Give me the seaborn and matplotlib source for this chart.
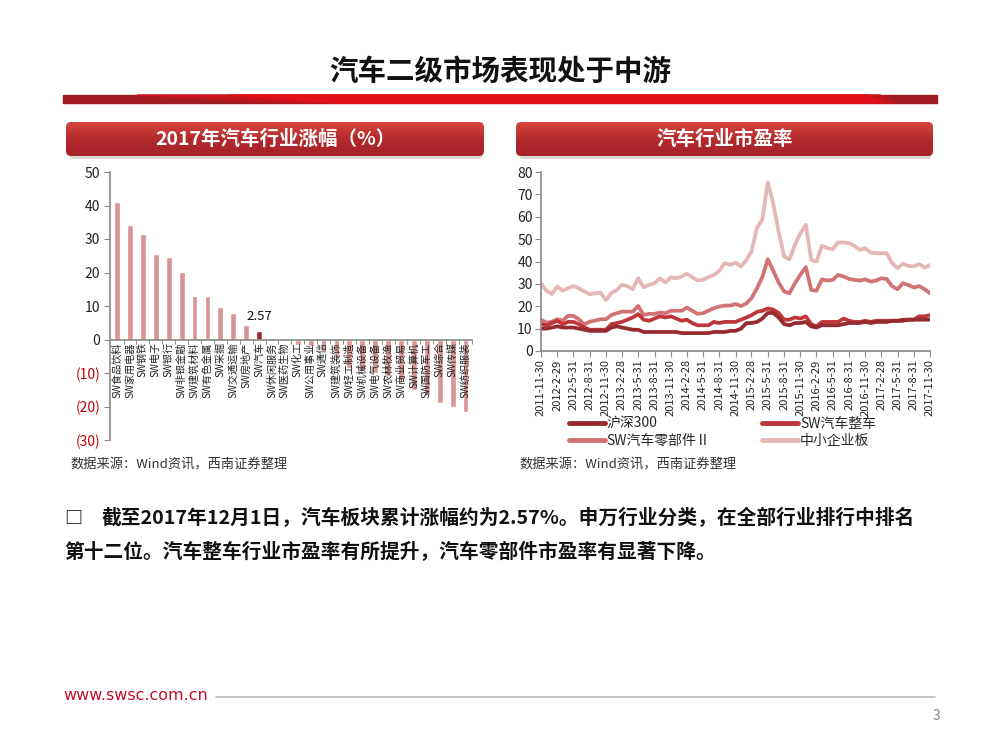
import numpy as np
import pandas as pd
import matplotlib
matplotlib.use('Agg')
import matplotlib.pyplot as plt
import seaborn as sns
from matplotlib.patches import FancyBboxPatch, Polygon, Rectangle
from matplotlib.colors import LinearSegmentedColormap
from matplotlib.lines import Line2D

# ---- data: 2017 industry returns (%)
bar_cats = ['SW食品饮料', 'SW家用电器', 'SW钢铁', 'SW电子', 'SW银行', 'SW非银金融', 'SW建筑材料',
            'SW有色金属', 'SW采掘', 'SW交通运输', 'SW房地产', 'SW汽车', 'SW休闲服务', 'SW医药生物',
            'SW化工', 'SW公用事业', 'SW通信', 'SW建筑装饰', 'SW轻工制造', 'SW机械设备', 'SW电气设备',
            'SW农林牧渔', 'SW商业贸易', 'SW计算机', 'SW国防军工', 'SW综合', 'SW传媒', 'SW纺织服装']
bar_vals = [41.0, 34.3, 31.5, 25.5, 24.5, 20.2, 13.0, 13.0, 9.7, 7.8, 4.2, 2.57, 0.3, 0.2,
            -1.5, -1.8, -3.5, -5.5, -8.5, -9.5, -10.0, -11.0, -12.0, -15.0, -16.5, -19.0, -20.0, -21.5]
highlight = 'SW汽车'
bar_yticks = [-30, -20, -10, 0, 10, 20, 30, 40, 50]
bar_ylabels = ['(30)', '(20)', '(10)', '0', '10', '20', '30', '40', '50']

# ---- data: PE ratio, month ends 2011-11-30 .. 2017-11-30
pe_dates = pd.date_range('2011-11-30', '2017-11-30', freq='ME')
hs300 = [10, 10, 10.5, 11, 10.5, 10.5, 10.5, 10, 9.5, 9, 9, 9, 9,
         10.5, 11, 10.5, 10, 9.5, 9.5, 8.5, 8.5, 8.5, 8.5, 8.5, 8.5, 8.5,
         8, 8, 8, 8, 8, 8, 8.5, 8.5, 8.5, 9, 9, 10,
         12.5, 12.5, 13, 14.5, 17, 17, 15, 12, 11.5, 12.5, 12.5, 13,
         11, 10.5, 11.5, 11.5, 11.5, 11.5, 12, 12.5, 12.5, 12.5, 13, 12.5,
         13, 13, 13, 13.5, 13.5, 13.5, 14, 14, 14, 14, 14]
zhengche = [12, 11.5, 12.5, 13.5, 12, 13, 13, 12, 10.5, 9.5, 9.5, 9.5, 9.5,
            12, 12.5, 13, 14, 15, 16.5, 14, 13.5, 14.5, 15.5, 15, 15.5, 14.5,
            13.5, 14, 12.5, 11.5, 11.5, 11.5, 13, 12.5, 13, 13, 13, 14,
            15, 16, 17.5, 18, 19, 18.5, 17, 14, 14, 15, 14.5, 15.5,
            12, 11, 13, 13, 13, 13, 14.5, 13.5, 13, 13, 13.5, 13,
            13.5, 13.5, 13.5, 13.5, 13.5, 14, 14, 14, 15.5, 15.5, 16]
lingbujian = [13.9, 12.7, 13.1, 14.2, 13.6, 15.7, 15.7, 14.2, 11.9, 13.1, 13.6, 14.2, 14.2,
              16.1, 16.9, 17.6, 17.6, 17.6, 20.1, 16.1, 16.6, 16.6, 17.2, 16.9, 18, 18,
              18, 19.4, 18, 16.6, 16.9, 18, 19.1, 19.9, 20.3, 20.3, 21, 20.1,
              21.3, 23.6, 28, 33, 41, 36, 30.6, 26.6, 25.8, 30.3, 34, 37.5,
              27.3, 26.9, 32, 31.5, 31.8, 34, 33.3, 32.2, 31.8, 31.5, 32, 31,
              31.5, 32.5, 32.2, 29, 27.6, 30.3, 29.5, 28.4, 29, 27.6, 25.8]
zxb = [30.3, 26.9, 25.5, 28.8, 27, 28, 29, 28, 26.6, 25.4, 25.8, 26.1, 22.8,
       26, 27.3, 29.6, 29, 27.6, 32.5, 28.5, 29.6, 30.3, 32.5, 30.6, 33, 32.5,
       33.3, 34.5, 33, 31.5, 31.8, 33, 34, 35.8, 39.3, 38.5, 39.5, 37.8,
       40.7, 44.5, 55, 58.7, 75.4, 66, 53.4, 42.2, 41, 47.5, 52.4, 56.4,
       40.7, 40, 47, 46, 45.5, 48.5, 48.5, 48.2, 47, 45.2, 46, 44,
       43.7, 43.7, 43.7, 39.3, 37, 39, 38, 37.8, 38.8, 37.3, 38.4]
series_names = ['沪深300', 'SW汽车整车', 'SW汽车零部件Ⅱ', '中小企业板']
series_colors = ['#962B2F', '#BE363A', '#D27274', '#E5B6B6']

sns.set_theme(style='white')
plt.rcParams['font.family'] = ['Noto Sans CJK SC', 'DejaVu Sans']
plt.rcParams['axes.unicode_minus'] = False

fig = plt.figure(figsize=(10, 7.5), dpi=100)
W, H = 1000.0, 750.0


def fx(x):
    return x / W


def fy(y):
    return 1 - y / H


# title + red band
fig.text(0.5, fy(72), '汽车二级市场表现处于中游', ha='center', va='center',
         fontsize=20.5, fontweight='bold', color='#111111')
fig.patches.append(Rectangle((fx(63), fy(103)), fx(937) - fx(63), fy(95) - fy(103),
                             transform=fig.transFigure, color='#A21B20', zorder=1))
fig.patches.append(Polygon([(fx(137), fy(95)), (fx(880), fy(95)), (fx(895), fy(103)), (fx(290), fy(103))],
                           closed=True, transform=fig.transFigure, color='#C4141C', zorder=2))
fig.patches.append(Polygon([(fx(230), fy(95)), (fx(868), fy(95)), (fx(882), fy(103)), (fx(330), fy(103))],
                           closed=True, transform=fig.transFigure, color='#E2101B', zorder=3))


def header(x0, x1, y0, y1, text):
    fig.patches.append(FancyBboxPatch((fx(x0 + 1), fy(y1 + 3)), fx(x1) - fx(x0), fy(y0) - fy(y1),
                                      boxstyle='round,pad=0,rounding_size=0.005',
                                      mutation_aspect=(x1 - x0) / (y1 - y0) * 0.75,
                                      transform=fig.transFigure, facecolor='#C8C8C8',
                                      edgecolor='none', alpha=0.7, zorder=-1))
    hax = fig.add_axes([fx(x0), fy(y1), fx(x1) - fx(x0), fy(y0) - fy(y1)])
    hax.set_axis_off()
    grad = np.linspace(0, 1, 100).reshape(-1, 1)
    cmap = LinearSegmentedColormap.from_list('hdr', ['#D9463F', '#B22A2C', '#A6222A'])
    im = hax.imshow(grad, aspect='auto', cmap=cmap, extent=(0, 1, 0, 1), origin='upper')
    box = FancyBboxPatch((0, 0), 1, 1, boxstyle='round,pad=0,rounding_size=0.012',
                         mutation_aspect=(x1 - x0) / (y1 - y0), transform=hax.transAxes,
                         facecolor='none', edgecolor='none')
    hax.add_patch(box)
    im.set_clip_path(box)
    hax.set_xlim(0, 1)
    hax.set_ylim(0, 1)
    hax.text(0.5, 0.5, text, ha='center', va='center', color='white',
             fontsize=14, fontweight='bold', transform=hax.transAxes)


header(66, 484, 122, 156, '2017年汽车行业涨幅（%）')
header(516, 933, 122, 156, '汽车行业市盈率')

# ---- left: bar chart
ax1 = fig.add_axes([fx(110), fy(440), fx(472) - fx(110), fy(172) - fy(440)])
pal = {c: ('#9E2A2B' if c == highlight else '#D99594') for c in bar_cats}
sns.barplot(x=bar_cats, y=bar_vals, hue=bar_cats, palette=pal, legend=False,
            width=0.45, saturation=1, ax=ax1)
ax1.set_axisbelow(False)
ax1.set_ylim(-30, 50)
ax1.set_xlim(-0.55, len(bar_cats) - 0.5)
ax1.set_yticks(bar_yticks)
ax1.set_yticklabels(bar_ylabels, fontsize=10)
for lab, v in zip(ax1.get_yticklabels(), bar_yticks):
    lab.set_color('#C00000' if v < 0 else '#222222')
for s in ['top', 'right']:
    ax1.spines[s].set_visible(False)
ax1.spines['left'].set_color('#8C8C8C')
ax1.spines['bottom'].set_color('#8C8C8C')
ax1.spines['bottom'].set_position(('data', 0))
ax1.tick_params(axis='y', which='major', left=True, length=4, width=0.8, color='#8C8C8C', pad=3)
ax1.set_xticks(range(len(bar_cats)))
ax1.set_xticklabels(bar_cats, rotation=90, fontsize=7.3, color='#222222')
ax1.tick_params(axis='x', which='major', length=0, pad=2)
ax1.set_xticks(np.arange(len(bar_cats)) + 0.5, minor=True)
ax1.tick_params(axis='x', which='minor', bottom=True, length=3, width=0.7, color='#8C8C8C')
ax1.set_xlabel('')
ax1.set_ylabel('')
hi = bar_cats.index(highlight)
ax1.annotate(f'{bar_vals[hi]:.2f}', (hi, bar_vals[hi]), xytext=(0, 6), textcoords='offset points',
             ha='center', va='bottom', fontsize=9.5, color='#111111')

# ---- right: PE lines
pe_df = pd.DataFrame({'date': np.tile(pe_dates, 4),
                      'pe': hs300 + zhengche + lingbujian + zxb,
                      'series': np.repeat(series_names, len(pe_dates))})
ax2 = fig.add_axes([fx(541), fy(351), fx(930) - fx(541), fy(172) - fy(351)])
sns.lineplot(data=pe_df, x='date', y='pe', hue='series', hue_order=series_names[::-1],
             palette=dict(zip(series_names, series_colors)), linewidth=2.7,
             legend=False, ax=ax2)
ax2.set_ylim(0, 80)
ax2.set_xlim(pe_dates[0], pe_dates[-1])
ax2.set_yticks(range(0, 81, 10))
ax2.set_yticklabels([str(v) for v in range(0, 81, 10)], fontsize=10, color='#222222')
tick_dates = pe_dates[::3]
ax2.set_xticks(tick_dates)
ax2.set_xticklabels([f'{d.year}-{d.month}-{d.day}' for d in tick_dates], rotation=90,
                    fontsize=8, color='#222222')
for s in ['top', 'right']:
    ax2.spines[s].set_visible(False)
ax2.spines['left'].set_color('#8C8C8C')
ax2.spines['bottom'].set_color('#8C8C8C')
ax2.tick_params(axis='both', length=4, width=0.8, color='#8C8C8C', bottom=True, left=True, pad=2)
ax2.set_xlabel('')
ax2.set_ylabel('')

# legend rows: (沪深300, SW汽车整车), (SW汽车零部件Ⅱ, 中小企业板)
leg_order = [0, 2, 1, 3]
handles = [Line2D([], [], color=series_colors[i], linewidth=3.5) for i in leg_order]
fig.legend(handles, [series_names[i] for i in leg_order], ncol=2, loc='upper left',
           bbox_to_anchor=(fx(563), fy(411)), frameon=False, fontsize=10, handlelength=2.6,
           handletextpad=0.15, columnspacing=3.7, labelspacing=0.25, borderaxespad=0)

# sources
for x in (70, 519):
    fig.text(fx(x), fy(465), '数据来源：Wind资讯，西南证券整理', ha='left', va='center',
             fontsize=9.5, color='#333333', style='italic')

# commentary
fig.text(fx(64), fy(518), '□', ha='left', va='center', fontsize=13, fontweight='bold', color='#111111')
fig.text(fx(102), fy(518), '截至2017年12月1日，汽车板块累计涨幅约为2.57%。申万行业分类，在全部行业排行中排名',
         ha='left', va='center', fontsize=14.2, fontweight='bold', color='#111111')
fig.text(fx(64), fy(552), '第十二位。汽车整车行业市盈率有所提升，汽车零部件市盈率有显著下降。',
         ha='left', va='center', fontsize=14.2, fontweight='bold', color='#111111')

# footer
fig.text(fx(63), fy(696), 'www.swsc.com.cn', ha='left', va='center', fontsize=11.5,
         color='#C0102A', family=['Liberation Sans Narrow', 'DejaVu Sans'])
fig.lines.append(Line2D([fx(216), fx(935)], [fy(697), fy(697)], transform=fig.transFigure,
                        color='#BBBBBB', linewidth=1.2))
fig.text(fx(936), fy(716), '3', ha='center', va='center', fontsize=10, color='#888888')

fig.savefig('out.png', dpi=100, facecolor='white')
